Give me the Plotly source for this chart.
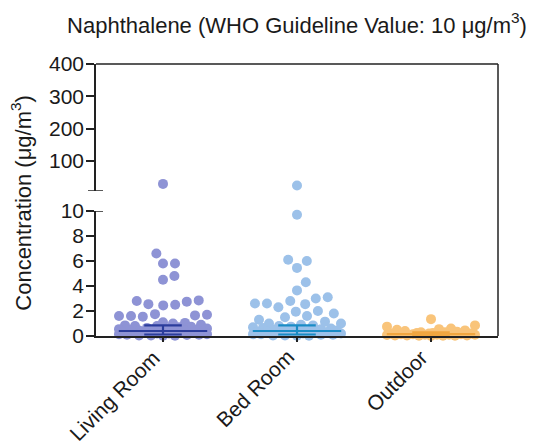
import numpy as np
import plotly.graph_objects as go

# ---------------- data ----------------
categories = ["Living Room", "Bed Room", "Outdoor"]

living_room = [29.0,
               6.6, 5.8, 5.8, 4.8, 4.5,
               2.85, 2.8, 2.75, 2.55, 2.5, 2.45,
               1.75, 1.7, 1.65, 1.6, 1.6, 1.55,
               1.05, 1.0, 1.1,
               0.9, 0.85, 0.8, 0.8, 0.75, 0.7, 0.65, 0.6, 0.6, 0.55,
               0.5, 0.5, 0.45, 0.45, 0.4, 0.4, 0.35, 0.35, 0.3, 0.3,
               0.3, 0.25, 0.25, 0.2, 0.2, 0.15, 0.15, 0.1, 0.1, 0.08,
               0.05, 0.05, 0.03, 0.02]

bed_room = [24.0,
            9.7, 6.1, 6.0, 5.45, 4.3, 3.65, 3.1, 3.0, 2.8, 2.6, 2.6, 2.55,
            2.3, 2.0, 1.95, 1.8, 1.6, 1.5, 1.3, 1.15, 1.0, 1.0,
            0.9, 0.85, 0.8, 0.75, 0.7, 0.65, 0.6, 0.55, 0.5, 0.5,
            0.45, 0.4, 0.4, 0.35, 0.35, 0.3, 0.3, 0.25, 0.25, 0.2,
            0.2, 0.15, 0.15, 0.1, 0.1, 0.05, 0.05, 0.03, 0.02]

outdoor = [1.35, 0.85, 0.75, 0.6, 0.55, 0.5, 0.45, 0.4, 0.35, 0.3,
           0.3, 0.25, 0.25, 0.2, 0.2, 0.2, 0.15, 0.15, 0.15, 0.1,
           0.1, 0.1, 0.1, 0.08, 0.05, 0.05, 0.05, 0.03, 0.02, 0.02, 0.01]

center_line = [0.4, 0.4, 0.15]
upper_bar = [0.85, 0.85, 0.3]
lower_bar = [0.12, 0.12, 0.05]

lower_ticks = [0, 2, 4, 6, 8, 10]
upper_ticks = [100, 200, 300, 400]

point_colors = ["#8e93d5", "#9cc1e9", "#f9c47a"]
line_colors = ["#2b3d9c", "#1a8cc6", "#f0a640"]

# ---------------- layout geometry ----------------
# the page body has an 8px default margin, so the figure is drawn 8px in
W, H = 528, 438
ML, MR, MT, MB = 88, 38, 56, 110
PW = W - ML - MR
PH = H - MT - MB
lower_dom = [0, 125 / PH]
upper_dom = [(336 - 191) / PH, 1]
lower_range = [0, 10]
upper_range = [7, 400]
x_range = [-0.5, 2.5]
px_per_x = PW / (x_range[1] - x_range[0])
px_per_y = (lower_dom[1] - lower_dom[0]) * PH / (lower_range[1] - lower_range[0])

BREAK = 10


def swarm(ypx, d, wmax):
    ypx = np.asarray(ypx, float)
    order = np.argsort(ypx)
    placed = []
    xs = np.zeros(len(ypx))
    for i in order:
        y = ypx[i]
        cands = [0.0]
        for xj, yj in placed:
            dy = abs(y - yj)
            if dy < d:
                dx = np.sqrt(d * d - dy * dy)
                cands += [xj + dx, xj - dx]
        cands.sort(key=abs)
        best = None
        for c in cands:
            if abs(c) > wmax:
                break
            if all((c - xj) ** 2 + (y - yj) ** 2 >= d * d - 1e-6 for xj, yj in placed):
                best = c
                break
        if best is None:
            grid = np.linspace(-wmax, wmax, 45)

            def mind(c):
                return min([(c - xj) ** 2 + (y - yj) ** 2 for xj, yj in placed] or [1e9])
            best = max(grid, key=lambda c: (round(mind(c), 3), -abs(c)))
        xs[i] = best
        placed.append((best, y))
    return xs


fig = go.Figure()

groups = [living_room, bed_room, outdoor]
for gi, vals in enumerate(groups):
    vals = np.asarray(vals, float)
    low = vals[vals <= BREAK]
    high = vals[vals > BREAK]
    offs = swarm(low * px_per_y, 12, 44) / px_per_x
    fig.add_trace(go.Scatter(
        x=gi + offs, y=low, mode="markers", yaxis="y", xaxis="x",
        marker=dict(size=10, color=point_colors[gi], line=dict(width=0)),
        cliponaxis=False, showlegend=False, hoverinfo="y"))
    if len(high):
        fig.add_trace(go.Scatter(
            x=[gi] * len(high), y=high, mode="markers", yaxis="y2", xaxis="x",
            marker=dict(size=10, color=point_colors[gi], line=dict(width=0)),
            cliponaxis=False, showlegend=False, hoverinfo="y"))
    w_c, w_e = 0.33, 0.14
    fig.add_trace(go.Scatter(
        x=[gi - w_c, gi + w_c, None, gi - w_e, gi + w_e, None, gi - w_e, gi + w_e, None, gi, gi],
        y=[center_line[gi], center_line[gi], None, upper_bar[gi], upper_bar[gi], None,
           lower_bar[gi], lower_bar[gi], None, lower_bar[gi], upper_bar[gi]],
        mode="lines", line=dict(color=line_colors[gi], width=2.2),
        yaxis="y", xaxis="x", cliponaxis=False, showlegend=False, hoverinfo="skip"))

font_family = "Liberation Sans, Arial, sans-serif"
axis_color = "#222222"
text_color = "#1a1a1a"

annotations = [dict(text="Concentration (\u03bcg/m<sup>3</sup>)", textangle=-90,
                    x=0, xref="paper", xshift=-75, y=0.49, yref="paper",
                    showarrow=False, font=dict(size=22, family=font_family, color=text_color),
                    xanchor="center", yanchor="middle")]
for ci, cat in enumerate(categories):
    annotations.append(dict(text=cat, textangle=-45, x=ci, xref="x", y=0, yref="y",
                            xanchor="right", yanchor="top", showarrow=False,
                            xshift=4, yshift=-7,
                            font=dict(size=21, family=font_family, color=text_color)))

fig.update_layout(
    width=W, height=H,
    margin=dict(l=ML, r=MR, t=MT, b=MB, pad=0, autoexpand=False),
    paper_bgcolor="white", plot_bgcolor="white",
    font=dict(family=font_family, size=21, color=text_color),
    showlegend=False,
    title=dict(text="Naphthalene (WHO Guideline Value: 10 \u03bcg/m<sup>3</sup>)",
               x=0.5, xref="paper", xanchor="center", y=1 - 17 / H, yanchor="middle",
               font=dict(size=22, family=font_family, color=text_color)),
    xaxis=dict(range=x_range, tickmode="array", tickvals=[0, 1, 2], showticklabels=False,
               ticks="outside", ticklen=4, tickwidth=1.5, tickcolor=axis_color,
               showline=True, linecolor=axis_color, linewidth=1.5, showgrid=False,
               zeroline=False, anchor="y", automargin=False),
    yaxis=dict(domain=lower_dom, range=lower_range, tickmode="array", tickvals=lower_ticks,
               ticks="outside", ticklen=8, tickwidth=1.5, tickcolor=axis_color,
               showline=True, linecolor=axis_color, linewidth=1.5, showgrid=False,
               zeroline=False, anchor="x", tickfont=dict(size=21), automargin=False,
               ticklabelstandoff=-2),
    yaxis2=dict(domain=upper_dom, range=upper_range, tickmode="array", tickvals=upper_ticks,
                ticks="outside", ticklen=8, tickwidth=1.5, tickcolor=axis_color,
                showline=True, linecolor=axis_color, linewidth=1.5, showgrid=False,
                zeroline=False, anchor="x", tickfont=dict(size=21), automargin=False,
                ticklabelstandoff=-2),
    annotations=annotations,
)

shapes = [
    dict(type="line", xref="paper", yref="paper", x0=0, x1=1, y0=1, y1=1,
         line=dict(color=axis_color, width=1.5)),
    dict(type="line", xref="paper", yref="paper", x0=1, x1=1, y0=0, y1=1,
         line=dict(color=axis_color, width=1.5)),
    dict(type="line", xref="paper", yref="y", x0=0, x1=7 / PW, y0=lower_range[1], y1=lower_range[1],
         line=dict(color=axis_color, width=1.5)),
    dict(type="line", xref="paper", yref="y2", x0=-8 / PW, x1=7 / PW,
         y0=upper_range[0], y1=upper_range[0], line=dict(color=axis_color, width=1.5)),
]
fig.update_layout(shapes=shapes)

fig.write_html("out.html")
